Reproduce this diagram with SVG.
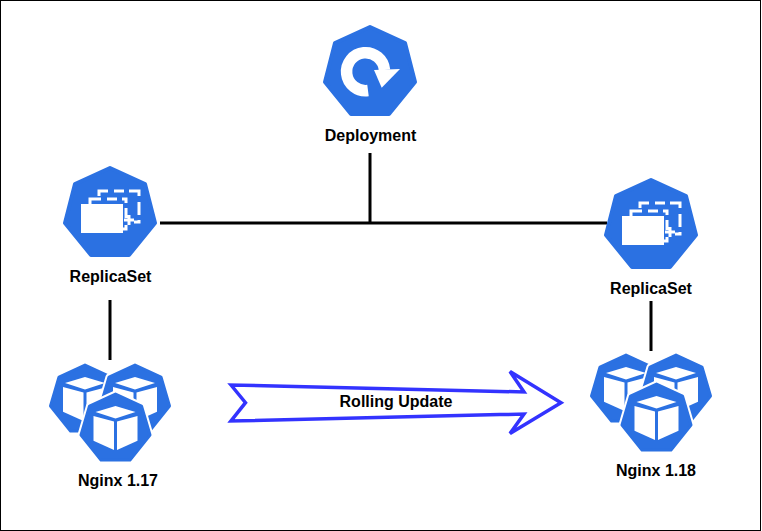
<svg xmlns="http://www.w3.org/2000/svg" width="762" height="531" viewBox="0 0 762 531">
<style>
text{font-family:"Liberation Sans",Arial,sans-serif;font-weight:700;font-size:16px;fill:#000;text-anchor:middle}
.hept{fill:#2b71e2;stroke:#2b71e2;stroke-width:4;stroke-linejoin:round}
.podo{fill:#fff;stroke:#fff;stroke-width:7;stroke-linejoin:round}
.podh{fill:#2b71e2;stroke:#2b71e2;stroke-width:3;stroke-linejoin:round}
.w{fill:#fff}
.conn{fill:none;stroke:#000;stroke-width:3}
.dash{fill:none;stroke:#fff;stroke-width:3}
</style>
<defs>
<polygon id="hex" class="hept" points="0,-45 35,-29 45,10 19,42 -19,42 -45,10 -35,-29"/>
<g id="rs">
<use href="#hex"/>
<path class="dash" d="M-20,-9V-14H-9M-3,-14H7M12,-14H16V-10M16,-5V5M14,7H24M19,2V12M16,12V16H13"/>
<path class="dash" d="M-11,-17V-22H-2M4,-22H14M19,-22H29V-17M29,-11V2M29,7V9H24"/>
<rect class="w" x="-29" y="-9" width="42" height="29"/>
</g>
<polygon id="podshape" points="0,-34 26,-22 34.500,7 14.500,32 -14.500,32 -34.500,7 -26,-22"/>
<g id="pod">
<use href="#podshape" class="podo"/>
<use href="#podshape" class="podh"/>
<polygon class="w" points="0,-22 20,-16 0,-9.500 -20,-16"/>
<polygon class="w" points="-22,-12 -1.500,-6.500 -1.500,22 -22,12.700"/>
<polygon class="w" points="22,-12 1.500,-6.500 1.500,22 22,12.700"/>
</g>
</defs>
<rect x="0.5" y="0.5" width="760" height="530" fill="#fff" stroke="#000" stroke-width="1"/>
<g id="connectors">
<path class="conn" d="M370,153V223M160,223H607M110,300V360M651,301V351"/>
</g>
<g id="deployment">
<use href="#hex" x="370" y="72"/>
<path d="M368,90.500A19,19 0 1 1 384.500,70" fill="none" stroke="#fff" stroke-width="11.500"/>
<polygon class="w" points="374,70 400,69 381.700,87.700"/>
<text x="370.500" y="141">Deployment</text>
</g>
<g id="replicaset-left">
<use href="#rs" x="110" y="213"/>
<text x="110.500" y="282">ReplicaSet</text>
</g>
<g id="replicaset-right">
<use href="#rs" x="651" y="225"/>
<text x="651" y="294">ReplicaSet</text>
</g>
<g id="pods-117">
<use href="#pod" x="85" y="399"/>
<use href="#pod" x="135" y="399"/>
<use href="#pod" x="115.500" y="428"/>
<text x="118" y="486">Nginx 1.17</text>
</g>
<g id="pods-118">
<use href="#pod" x="626" y="389"/>
<use href="#pod" x="676" y="389"/>
<use href="#pod" x="656.500" y="418"/>
<text x="656" y="476">Nginx 1.18</text>
</g>
<g id="rolling-update">
<polygon points="231,385 245.500,402.700 231,421 524,414 510,433.500 561,402.700 510,371.500 524,392" fill="#fff" stroke="#3333ff" stroke-width="3.500"/>
<text x="396" y="407">Rolling Update</text>
</g>
</svg>
